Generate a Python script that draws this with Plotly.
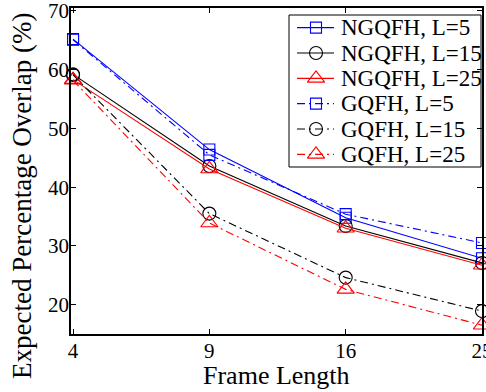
import plotly.graph_objects as go

frame_length = ["4", "9", "16", "25"]
x_idx = [1, 2, 3, 4]

ngqfh_l5 = [65.2, 46.4, 34.8, 27.9]
ngqfh_l15 = [59.2, 43.6, 33.4, 27.1]
ngqfh_l25 = [58.3, 43.1, 33.0, 26.7]
gqfh_l5 = [65.1, 45.5, 35.4, 30.5]
gqfh_l15 = [59.1, 35.5, 24.6, 18.9]
gqfh_l25 = [58.2, 33.9, 22.6, 16.5]

DASHDOT = "8px,4px,2px,4px"
series = [
    ("NGQFH, L=5", ngqfh_l5, "#0000ff", "square-open", "solid", 11),
    ("NGQFH, L=15", ngqfh_l15, "#000000", "circle-open", "solid", 13),
    ("NGQFH, L=25", ngqfh_l25, "#ff0000", "triangle-up-open", "solid", 15),
    ("GQFH, L=5", gqfh_l5, "#0000ff", "square-open", DASHDOT, 11),
    ("GQFH, L=15", gqfh_l15, "#000000", "circle-open", DASHDOT, 13),
    ("GQFH, L=25", gqfh_l25, "#ff0000", "triangle-up-open", DASHDOT, 15),
]

W, H = 486, 392
ML, MR, MT, MB = 71, 4, 8, 58
PX0, PX1 = ML, W - MR
PY0, PY1 = MT, H - MB

fig = go.Figure()
for name, vals, color, sym, dash, size in series:
    fig.add_trace(go.Scatter(
        x=x_idx, y=vals, name=name, mode="lines+markers",
        line=dict(color=color, width=1.1, dash=dash),
        marker=dict(symbol=sym, size=size, color=color, line=dict(color=color, width=1.1)),
        cliponaxis=False, showlegend=False,
    ))

# Legend (drawn in a pixel-unit overlay axis)
LEG_X0, LEG_X1, LEG_Y0, LEG_Y1 = 289, 481, 15, 167
row_h = (LEG_Y1 - LEG_Y0) / len(series)
font_family = "Liberation Serif, Times New Roman, serif"
annotations = []
for i, (name, vals, color, sym, dash, size) in enumerate(series):
    ry = LEG_Y0 + row_h * (i + 0.5)
    fig.add_trace(go.Scatter(
        x=[LEG_X0 + 8, LEG_X0 + 45], y=[ry, ry], mode="lines",
        line=dict(color=color, width=1.1, dash=dash),
        xaxis="x2", yaxis="y2", showlegend=False, hoverinfo="skip", cliponaxis=False,
    ))
    fig.add_trace(go.Scatter(
        x=[LEG_X0 + 27], y=[ry], mode="markers",
        marker=dict(symbol=sym, size=size, color=color, line=dict(color=color, width=1.1)),
        xaxis="x2", yaxis="y2", showlegend=False, hoverinfo="skip", cliponaxis=False,
    ))
    annotations.append(dict(
        x=LEG_X0 + 50, y=ry, xref="x2", yref="y2", text=name, showarrow=False,
        xanchor="left", yanchor="middle",
        font=dict(family=font_family, size=23, color="black"),
    ))

# Axis titles
annotations.append(dict(
    text="Frame Length", x=0.5, y=(PY1 - 375) / (PY1 - PY0), xref="paper", yref="paper",
    showarrow=False, xanchor="center", yanchor="middle", borderpad=0,
    font=dict(family=font_family, size=26, color="black"),
))
annotations.append(dict(
    text="Expected Percentage Overlap (%)", textangle=-90,
    x=(22 - PX0) / (PX1 - PX0), y=(PY1 - 196) / (PY1 - PY0), xref="paper", yref="paper",
    showarrow=False, xanchor="center", yanchor="middle",
    font=dict(family=font_family, size=27, color="black"),
))

fig.update_layout(
    width=W, height=H,
    margin=dict(l=ML, r=MR, t=MT, b=MB),
    paper_bgcolor="white", plot_bgcolor="white",
    font=dict(family=font_family, color="black", size=20),
    showlegend=False,
    annotations=annotations,
    shapes=[dict(type="rect", xref="x2", yref="y2", x0=LEG_X0, x1=LEG_X1, y0=LEG_Y0, y1=LEG_Y1,
                 line=dict(color="black", width=1), fillcolor="white", layer="below")],
    xaxis=dict(
        range=[0.985, 4.0], tickmode="array", tickvals=x_idx, ticktext=frame_length,
        showgrid=False, zeroline=False, showline=True, linecolor="black", linewidth=1.5,
        mirror="ticks", ticks="inside", ticklen=5, tickcolor="black",
        tickfont=dict(family=font_family, size=21), ticklabeloverflow="allow",
        ticklabelstandoff=-3,
        automargin=False,
    ),
    yaxis=dict(
        range=[15, 70.5], tickmode="array", tickvals=[20, 30, 40, 50, 60, 70],
        showgrid=False, zeroline=False, showline=True, linecolor="black", linewidth=1.5,
        mirror="ticks", ticks="inside", ticklen=5, tickcolor="black",
        tickfont=dict(family=font_family, size=21), ticklabeloverflow="allow",
        ticklabelstandoff=-4,
        automargin=False,
    ),
    xaxis2=dict(range=[PX0, PX1], overlaying="x", visible=False, fixedrange=True),
    yaxis2=dict(range=[PY1, PY0], overlaying="y", visible=False, fixedrange=True),
)

fig.write_html("out.html")
